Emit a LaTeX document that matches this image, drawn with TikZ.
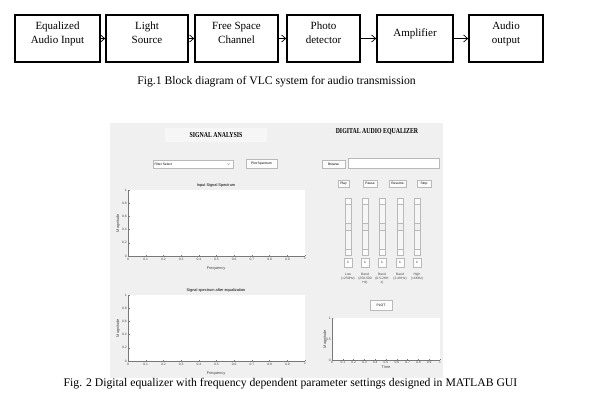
\documentclass[tikz,border=0pt]{standalone}
\usepackage{fontspec}
\setmainfont{Liberation Serif}
\newfontfamily\guifont{Liberation Sans}
\usepackage{tikz}
\usetikzlibrary{arrows.meta}
\definecolor{guibg}{RGB}{240,240,240}
\definecolor{guipane}{RGB}{246,246,246}
\definecolor{guibtn}{RGB}{252,252,252}
\definecolor{guiedge}{RGB}{185,185,185}
\definecolor{guiaxis}{RGB}{120,120,120}
\definecolor{guitext}{RGB}{70,70,70}
\newcommand{\guitiny}{\guifont\fontsize{3.3}{3.9}\selectfont}
\newcommand{\guismall}{\guifont\fontsize{3.9}{4.5}\selectfont}
\newcommand{\guihead}[1]{\scalebox{0.78}[1]{\bfseries\fontsize{7.5}{8}\selectfont #1}}

\begin{document}
\begin{tikzpicture}[x=1pt, y=-1pt,
    box/.style={draw, line width=1.6pt, minimum width=#1, minimum height=47pt,
                inner sep=0pt, align=center, text depth=12pt,
                font=\fontsize{11}{14}\selectfont},
    arr/.style={-{Straight Barb[length=4pt,width=7pt]}, line width=0.7pt},
    captext/.style={font=\fontsize{11.7}{13}\selectfont, inner sep=0pt},
    gbtn/.style={draw=guiedge, fill=guibtn, line width=0.3pt, inner sep=0pt,
                 font=\guitiny},
    gfield/.style={draw=guiedge, fill=white, line width=0.3pt, inner sep=0pt},
    ticklab/.style={font=\guitiny, text=guitext, inner sep=0.5pt},
    axlab/.style={font=\guismall, text=guitext, inner sep=0pt},
    plottitle/.style={font=\guismall, inner sep=0pt},
    axline/.style={draw=guiaxis, line width=0.4pt},
    slidebox/.style={draw=guiedge, line width=0.3pt}
  ]
    \useasboundingbox (0,0) rectangle (598,412);

    % block diagram
    \node[box=85pt] (eqin)  at (57.5,38.5)  {Equalized\\Audio Input};
    \node[box=82pt] (light) at (147,38.5)   {Light\\Source};
    \node[box=83pt] (chan)  at (236.5,38.5) {Free Space\\Channel};
    \node[box=73pt] (photo) at (323.5,38.5) {Photo\\detector};
    \node[box=76pt] (amp)   at (415,38.5)   {Amplifier};
    \node[box=74pt] (out)   at (506,38.5)   {Audio\\output};

    \draw[arr] (eqin) -- (light);
    \draw[arr] (light) -- (chan);
    \draw[arr] (chan) -- (photo);
    \draw[arr] (photo) -- (amp);
    \draw[arr] (amp) -- (out);

    \node[captext] (cap1) at (276.5,82) {Fig.1 Block diagram of VLC system for audio transmission};

    % MATLAB GUI
    \fill[guibg] (110,123) rectangle (443,378);
    \node[fill=guipane, minimum width=102pt, minimum height=14pt] (sigtitle) at (216,135) {\guihead{SIGNAL ANALYSIS}};
    \node (eqtitle) at (377,132) {\guihead{DIGITAL AUDIO EQUALIZER}};

    \node[gfield, minimum width=80pt, minimum height=8pt] (filtsel) at (193,164) {};
    \node[anchor=west, font=\guitiny, inner sep=0pt] (filttxt) at ([xshift=1.5pt]filtsel.west) {Filter Select};
    \draw[guiaxis, line width=0.3pt] ([xshift=-6pt,yshift=0.6pt]filtsel.east) -- ++(1.2,1.2) -- ++(1.2,-1.2);
    \node[gbtn, minimum width=31pt, minimum height=9pt] (plotspec) at (261.5,163.5) {Plot Spectrum};

    \node[gbtn, minimum width=23pt, minimum height=8pt] (browse) at (333.5,164) {Browse};
    \node[gfield, minimum width=91pt, minimum height=10pt] (pathbox) at (393.5,163) {};

    \foreach \bx/\bw/\bt in {343.5/11/Play, 370/14/Pause, 397.5/17/Resume, 424/14/Stop}
      \node[gbtn, minimum width=\bw pt, minimum height=7pt] (btn\bt) at (\bx,183.5) {\bt};

    % sliders
    \foreach \sx [count=\k] in {348,365,382,400,417} {
      \draw[slidebox, fill=guipane] (\sx-3,198) rectangle (\sx+3,255);
      \draw[slidebox, fill=guibtn] (\sx-3,198) rectangle (\sx+3,204);
      \draw[slidebox, fill=guibtn] (\sx-3,249) rectangle (\sx+3,255);
      \draw[slidebox, fill=guibg] (\sx-3,223) rectangle (\sx+3,230);
      \node[gfield, minimum width=8pt, minimum height=9pt, font=\guitiny] (val\k) at (\sx,262.5) {1};
    }
    \foreach \sx/\lb [count=\k] in {348/{Low\\(<250Hz)}, 365/{Band\\(250-500\\Hz)},
        382/{Band\\(0.5-2KH\\z)}, 400/{Band\\(2-4KHz)}, 417/{High\\(>4KHz)}}
      \node[anchor=north, align=center, font=\guitiny, text=guitext, inner sep=0pt] (band\k) at (\sx,273) {\lb};

    \node[gbtn, minimum width=22pt, minimum height=10pt] (plotbtn) at (381,305) {PLOT};

    % spectrum plots
    \foreach \ptop/\ttl/\nm in {190/Input Signal Spectrum/a, 295/Signal spectrum after equalization/b} {
      \fill[white] (128,\ptop) rectangle (305,\ptop+66);
      \draw[axline] (128,\ptop) -- (128,\ptop+66) -- (305,\ptop+66);
      \foreach \t [count=\i from 0] in {0,0.1,0.2,0.3,0.4,0.5,0.6,0.7,0.8,0.9,1} {
        \draw[axline] (128+17.7*\i,\ptop+66) -- ++(0,-1.5);
        \node[ticklab, anchor=north] (xt\nm\i) at (128+17.7*\i,\ptop+67) {\t};
      }
      \foreach \t [count=\j from 0] in {0,0.2,0.4,0.6,0.8,1} {
        \draw[axline] (128,\ptop+66-13.2*\j) -- ++(1.5,0);
        \node[ticklab, anchor=east] (yt\nm\j) at (127.5,\ptop+66-13.2*\j) {\t};
      }
      \node[plottitle] (title\nm) at (216,\ptop-5) {\ttl};
      \node[axlab] (xlab\nm) at (216,\ptop+79) {Frequency};
      \node[axlab, rotate=90] (ylab\nm) at (118,\ptop+33) {Magnitude};
    }

    % time plot
    \fill[white] (332,318) rectangle (440,360);
    \draw[axline] (332,318) -- (332,360) -- (440,360);
    \foreach \t [count=\i from 0] in {0,0.1,0.2,0.3,0.4,0.5,0.6,0.7,0.8,0.9,1} {
      \draw[axline] (332+10.8*\i,360) -- ++(0,-1.2);
      \node[ticklab, anchor=north] (xtc\i) at (332+10.8*\i,360.5) {\t};
    }
    \foreach \t [count=\j from 0] in {0,0.5,1} {
      \draw[axline] (332,360-21*\j) -- ++(1.2,0);
      \node[ticklab, anchor=east] (ytc\j) at (331.5,360-21*\j) {\t};
    }
    \node[axlab] (xlabc) at (386,367) {Time};
    \node[axlab, rotate=90] (ylabc) at (325,339) {Magnitude};

    \node[captext] (cap2) at (290.5,384) {Fig. 2 Digital equalizer with frequency dependent parameter settings designed in MATLAB GUI};
\end{tikzpicture}
\end{document}
